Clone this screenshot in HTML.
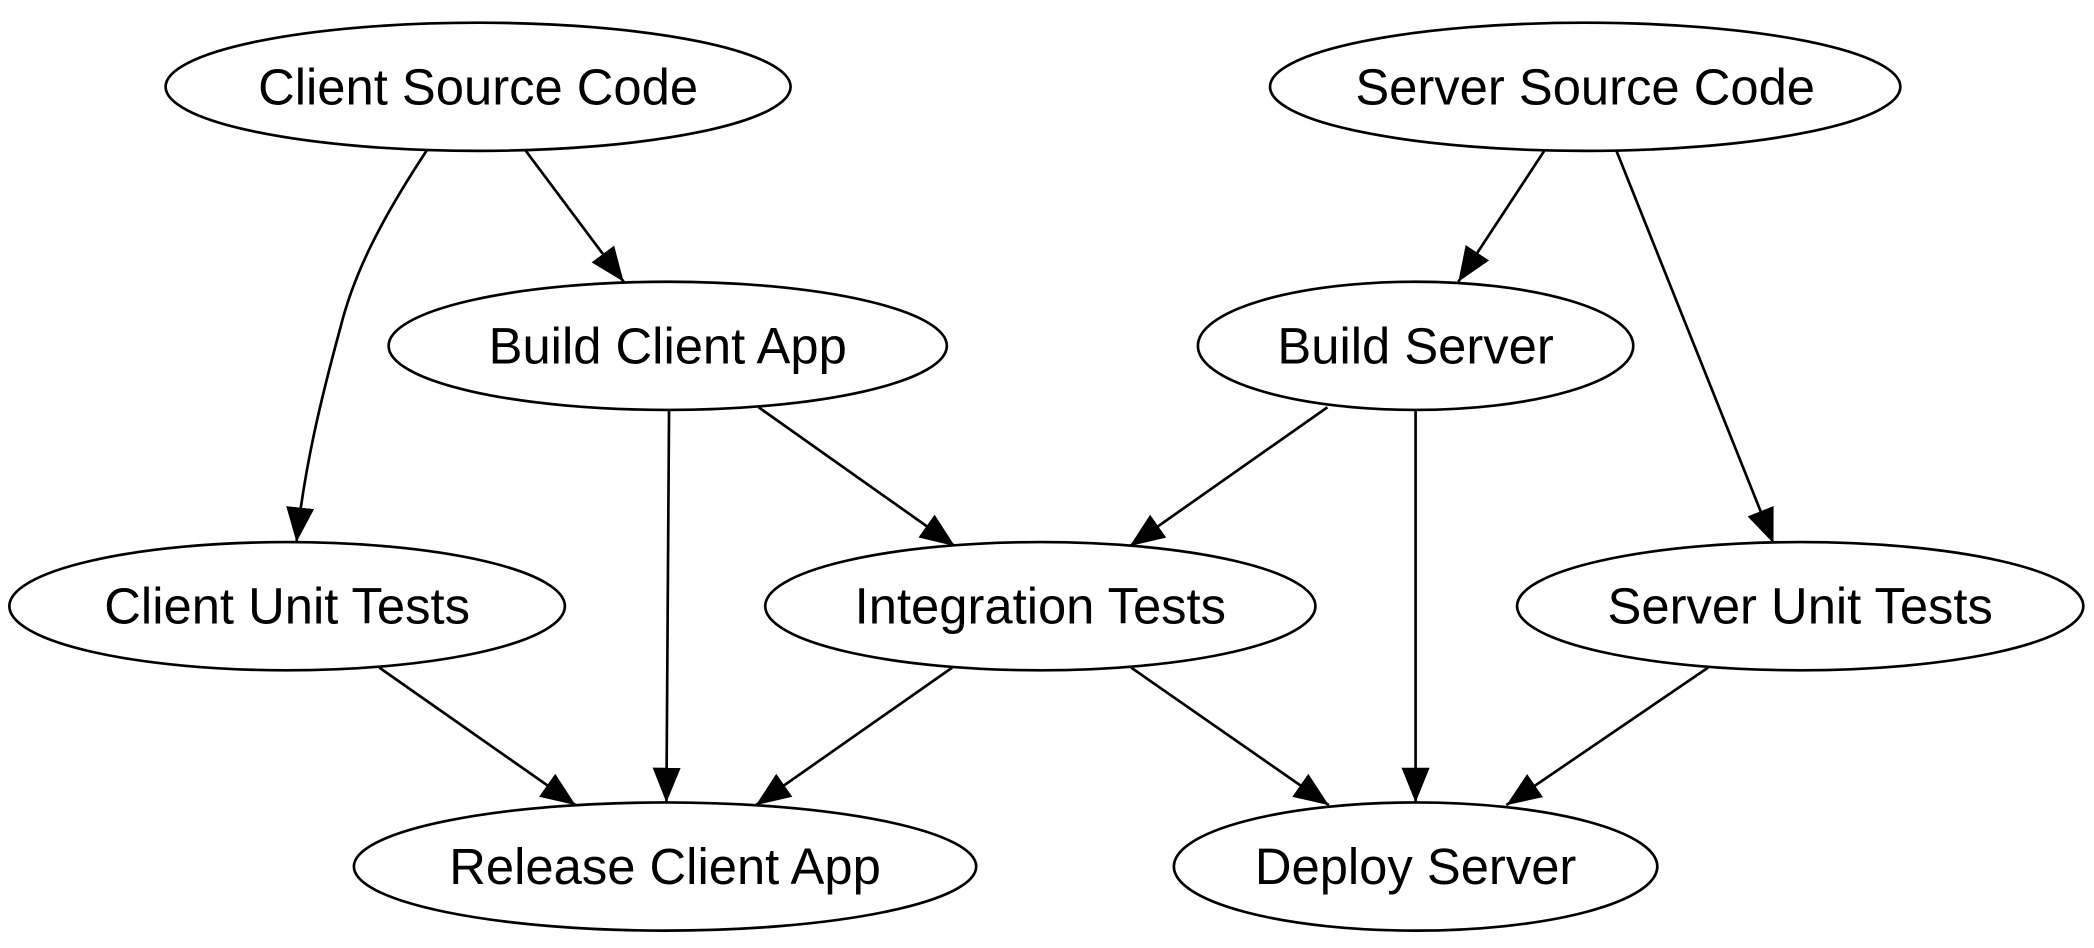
<!DOCTYPE html>
<html><head><meta charset="utf-8"><style>
html,body{margin:0;padding:0;background:#fff;}
svg{display:block;}
text{font-family:"Liberation Sans",Arial,sans-serif;font-size:38px;fill:#000;text-anchor:middle;dominant-baseline:central;}
ellipse{fill:#fff;stroke:#000;stroke-width:2;}
.e{fill:none;stroke:#000;stroke-width:2;}
</style></head><body>
<svg width="2094" height="948" viewBox="0 0 1568 710" preserveAspectRatio="none">
<defs>
<marker id="ah" viewBox="0 0 26 21" refX="26" refY="10.5" markerWidth="26" markerHeight="21" orient="auto" markerUnits="userSpaceOnUse"><path d="M0,0 L26,10.5 L0,21 z" fill="#000"/></marker></defs>
<path class="e" marker-end="url(#ah)" d="M393,112 L467,211"/>
<path class="e" marker-end="url(#ah)" d="M320,112 C285,165 265,205 255,245 C240,300 228,350 222,406"/>
<path class="e" marker-end="url(#ah)" d="M1157,112 L1092,211"/>
<path class="e" marker-end="url(#ah)" d="M1210,112 L1328,407"/>
<path class="e" marker-end="url(#ah)" d="M568,305 L715,409"/>
<path class="e" marker-end="url(#ah)" d="M501,305 L499,601"/>
<path class="e" marker-end="url(#ah)" d="M994,305 L846,409"/>
<path class="e" marker-end="url(#ah)" d="M1060,305 L1060,601"/>
<path class="e" marker-end="url(#ah)" d="M284,500 L431,603"/>
<path class="e" marker-end="url(#ah)" d="M713,500 L566,603"/>
<path class="e" marker-end="url(#ah)" d="M847,500 L995,603"/>
<path class="e" marker-end="url(#ah)" d="M1279,500 L1128,603"/>
<ellipse cx="358" cy="65" rx="234" ry="48"/><text x="358" y="65">Client Source Code</text>
<ellipse cx="1187" cy="65" rx="236" ry="48"/><text x="1187" y="65">Server Source Code</text>
<ellipse cx="500" cy="259" rx="209" ry="48"/><text x="500" y="259">Build Client App</text>
<ellipse cx="1060" cy="259" rx="163" ry="48"/><text x="1060" y="259">Build Server</text>
<ellipse cx="215" cy="454" rx="208" ry="48"/><text x="215" y="454">Client Unit Tests</text>
<ellipse cx="779" cy="454" rx="206" ry="48"/><text x="779" y="454">Integration Tests</text>
<ellipse cx="1348" cy="454" rx="212" ry="48"/><text x="1348" y="454">Server Unit Tests</text>
<ellipse cx="498" cy="649" rx="233" ry="48"/><text x="498" y="649">Release Client App</text>
<ellipse cx="1060" cy="649" rx="181" ry="48"/><text x="1060" y="649">Deploy Server</text>
</svg>
</body></html>
